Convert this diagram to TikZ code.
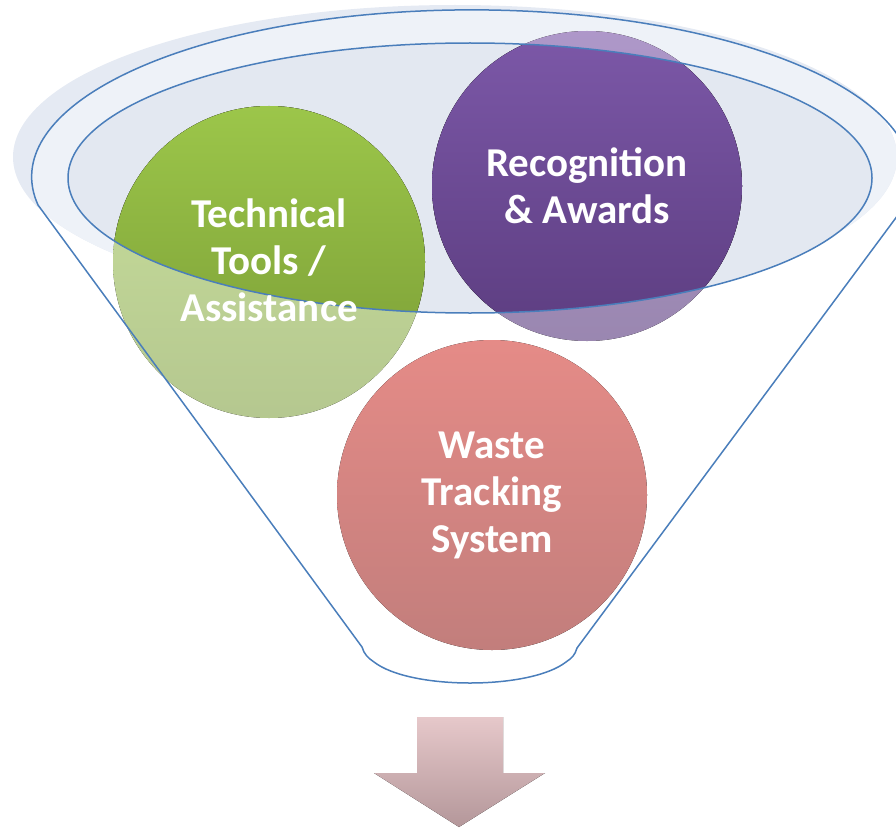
\documentclass[tikz,border=0pt]{standalone}
\usepackage{fontspec}
\setmainfont{Carlito}
\definecolor{shadeC}{HTML}{E5EAF3}
\definecolor{mouthC}{HTML}{EEF2F8}
\definecolor{innerC}{HTML}{E3E8F1}
\definecolor{lineC}{HTML}{4A7EBB}
\definecolor{grTop}{HTML}{9CC64A}
\definecolor{grBot}{HTML}{789A34}
\definecolor{puTop}{HTML}{7C58A8}
\definecolor{puBot}{HTML}{5C3D80}
\definecolor{reTop}{HTML}{E58B87}
\definecolor{reBot}{HTML}{C27E7C}
\definecolor{arTop}{HTML}{E6C8CA}
\definecolor{arBot}{HTML}{B4979A}
\tikzset{
  outline/.style={draw=lineC, line width=1.5pt},
  label/.style={text=white, font=\bfseries\fontsize{41}{47}\selectfont, align=center, inner sep=0pt},
}
\begin{document}
\begin{tikzpicture}[x=1pt,y=-1pt]
\useasboundingbox (0,0) rectangle (896,832);
\clip (0,0) rectangle (896,832);
% outer soft shade
\fill[shadeC] (455,157) ellipse[x radius=442, y radius=152];
% funnel mouth lighter fill, clipped to the shade
\begin{scope}
  \clip (455,157) ellipse[x radius=442, y radius=152];
  \fill[mouthC] (472,177) ellipse[x radius=440, y radius=167];
\end{scope}
% inner ellipse fill
\fill[innerC] (470,178) ellipse[x radius=402, y radius=135];
% washed parts of the upper circles
\fill[top color=grTop!55!white, bottom color=grBot!55!white] (269,262) circle[radius=156];
\fill[top color=puTop!62!white, bottom color=puBot!62!white] (587,186) circle[radius=155];
% saturated parts inside the inner ellipse
\begin{scope}
  \clip (470,178) ellipse[x radius=402, y radius=135];
  \fill[top color=grTop, bottom color=grBot] (269,262) circle[radius=156];
  \fill[top color=puTop, bottom color=puBot] (587,186) circle[radius=155];
\end{scope}
% inner ellipse line
\draw[outline] (470,178) ellipse[x radius=402, y radius=135];
% funnel outline
\draw[outline, line join=round]
  (362,647) -- (38,205)
  arc[start angle=170.3, end angle=369.7, x radius=440, y radius=167]
  -- (577,648)
  .. controls (575,655) and (572,658) .. (566,662)
  .. controls (530,690) and (410,690) .. (374,662)
  .. controls (368,658) and (364,654) .. (362,647);
% red circle
\fill[top color=reTop, bottom color=reBot] (492,495) circle[radius=155];
% labels
\node[label] (tech) at (269,260) {Technical\\Tools /\\Assistance};
\node[label] (reco) at (587,186) {Recognition\\\& Awards};
\node[label] (waste) at (492,495) {Waste\\Tracking\\System};
% arrow
\fill[top color=arTop, bottom color=arBot]
  (417,717) -- (503,717) -- (503,773) -- (545,773) -- (459,827) -- (374,773) -- (417,773) -- cycle;
\end{tikzpicture}
\end{document}
